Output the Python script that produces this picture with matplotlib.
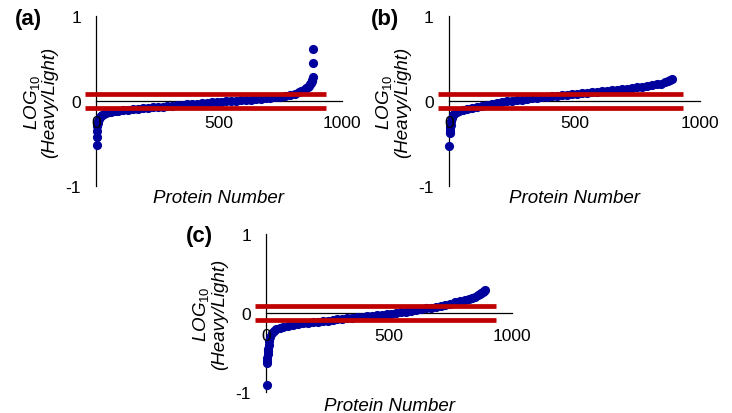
#Sorted heavy/light ratios for three samples, one panel per sample.
import matplotlib.pyplot as plt

plt.rcParams['font.family'] = 'Liberation Sans'
plt.rcParams['mathtext.fontset'] = 'custom'
plt.rcParams['mathtext.it'] = 'Liberation Sans:italic'
plt.rcParams['mathtext.rm'] = 'Liberation Sans'
plt.rcParams['axes.unicode_minus'] = False

#Data (protein number, log10 ratio):
prot_a = [1, 2, 3, 4, 6, 8, 10, 14, 18, 24, 30, 40, 50, 60, 75, 90,
          110, 130, 150, 170, 190, 210, 230, 250, 270, 290, 310, 330,
          350, 370, 390, 410, 430, 450, 470, 490, 510, 530, 550, 570,
          590, 610, 630, 650, 670, 690, 710, 730, 750, 770, 790, 810,
          825, 835, 845, 855, 862, 868, 873, 877, 880, 881, 882, 883, 884]
ratio_a = [-0.52, -0.42, -0.35, -0.29, -0.26, -0.23, -0.21, -0.19, -0.175, -0.16,
           -0.15, -0.14, -0.13, -0.125, -0.12, -0.115,
           -0.11, -0.10, -0.095, -0.09, -0.085, -0.08, -0.075, -0.07, -0.065, -0.06,
           -0.055, -0.05, -0.045, -0.04, -0.035, -0.03, -0.025, -0.02, -0.015, -0.012,
           -0.008, -0.005, -0.002, 0.002, 0.006, 0.01, 0.015, 0.02, 0.025, 0.03,
           0.036, 0.043, 0.05, 0.06, 0.072, 0.088,
           0.105, 0.12, 0.135, 0.15, 0.165, 0.18, 0.195, 0.21, 0.23, 0.25, 0.28, 0.45, 0.61]

prot_b = [1, 2, 3, 4, 5, 6, 8, 10, 14, 20, 30, 40, 55, 70, 90,
          110, 130, 150, 170, 190, 210, 230, 250, 270, 290, 310, 330,
          350, 370, 390, 410, 430, 450, 470, 490, 510, 530, 550, 570,
          590, 610, 630, 650, 670, 690, 710, 730, 750, 770, 790, 810,
          830, 845, 860, 872, 882, 890]
ratio_b = [-0.53, -0.38, -0.36, -0.34, -0.31, -0.28, -0.24, -0.20, -0.17, -0.15,
           -0.13, -0.12, -0.105, -0.095, -0.08,
           -0.065, -0.053, -0.042, -0.032, -0.022, -0.013, -0.005, 0.003, 0.01, 0.017,
           0.024, 0.031, 0.037, 0.043, 0.049, 0.055, 0.061, 0.067, 0.073, 0.079,
           0.085, 0.091, 0.097, 0.103, 0.109, 0.115, 0.121, 0.127, 0.133, 0.139,
           0.146, 0.153, 0.16, 0.168, 0.176, 0.185,
           0.195, 0.205, 0.22, 0.235, 0.248, 0.255]

prot_c = [1, 2, 3, 4, 5, 6, 7, 9, 12, 16, 22, 30, 40, 55, 70, 90,
          110, 130, 150, 170, 190, 210, 230, 250, 270, 290, 310, 330,
          350, 370, 390, 410, 430, 450, 470, 490, 510, 530, 550, 570,
          590, 610, 630, 650, 670, 690, 710, 730, 750, 770, 790, 810,
          825, 840, 852, 862, 870, 876, 882, 886, 890]
ratio_c = [-0.91, -0.63, -0.60, -0.57, -0.51, -0.48, -0.45, -0.40, -0.35, -0.30,
           -0.25, -0.22, -0.20, -0.185, -0.17, -0.16,
           -0.15, -0.14, -0.13, -0.122, -0.115, -0.108, -0.10, -0.093, -0.087, -0.08,
           -0.073, -0.066, -0.06, -0.053, -0.046, -0.04, -0.033, -0.026, -0.019, -0.012,
           -0.005, 0.003, 0.011, 0.02, 0.03, 0.04, 0.05, 0.06, 0.071, 0.082,
           0.094, 0.107, 0.12, 0.136, 0.152, 0.168,
           0.18, 0.195, 0.21, 0.225, 0.24, 0.255, 0.27, 0.28, 0.29]

#cut-off lines (+/- log10 ratio) and how far they run along x
cutoff = 0.088
cutoff_span = [-45, 935]

x_ticks = [0, 500, 1000]
y_ticks = [-1, 0, 1]

blue = '#00009c'
red = '#c00000'

fig = plt.figure(figsize=(7.32, 4.14), dpi=100)


def panel(rect, prot, ratio, letter, letter_xy):
    ax = fig.add_axes(rect)
    ax.set_xlim(-60, 1000)
    ax.set_ylim(-1, 1)
    #axes cross at the origin, as in the original figure
    for side in ['top', 'right']:
        ax.spines[side].set_visible(False)
    ax.spines['left'].set_position(('data', 0))
    ax.spines['bottom'].set_position(('data', 0))
    ax.spines['bottom'].set_bounds(0, 1000)
    for side in ['left', 'bottom']:
        ax.spines[side].set_linewidth(0.9)
        ax.spines[side].set_zorder(1)

    ax.plot(prot, ratio, 'o', ms=6.6, mew=0, color=blue, zorder=3)
    for c in [cutoff, -cutoff]:
        ax.plot(cutoff_span, [c, c], color=red, lw=3.4, solid_capstyle='butt',
                clip_on=False, zorder=4)

    ax.set_xticks(x_ticks)
    ax.set_xticklabels([str(t) for t in x_ticks])
    ax.set_yticks(y_ticks)
    ax.set_yticklabels([str(t) for t in y_ticks])
    ax.tick_params(axis='x', length=0, pad=10.4, labelsize=12.5)
    ax.tick_params(axis='y', length=0, pad=11, labelsize=12.5)
    ax.xaxis.set_zorder(5)

    ax.set_ylabel(r'$\mathit{LOG_{10}}$' + '\n(Heavy/Light)', fontsize=13.5,
                  style='italic', linespacing=1.0, va='center')
    ax.set_xlabel('Protein Number', fontsize=13.5, style='italic', va='center')
    fig.text(letter_xy[0] / 732, 1 - letter_xy[1] / 414, letter, fontsize=16,
             fontweight='bold', ha='center', va='center')
    return ax


ax_a = panel([0.1115, 0.5483, 0.3552, 0.4106], prot_a, ratio_a, '(a)', (28, 20))
ax_a.yaxis.set_label_coords(-0.16, 0.5)
ax_a.xaxis.set_label_coords(0.528, -0.07)

ax_b = panel([0.5930, 0.5483, 0.3630, 0.4106], prot_b, ratio_b, '(b)', (385, 20))
ax_b.yaxis.set_label_coords(-0.155, 0.5)
ax_b.xaxis.set_label_coords(0.528, -0.07)

ax_c = panel([0.3437, 0.0500, 0.3553, 0.3824], prot_c, ratio_c, '(c)', (199, 237))
ax_c.yaxis.set_label_coords(-0.16, 0.5)
ax_c.xaxis.set_label_coords(0.532, -0.085)

fig.savefig('out.png', dpi=100)
